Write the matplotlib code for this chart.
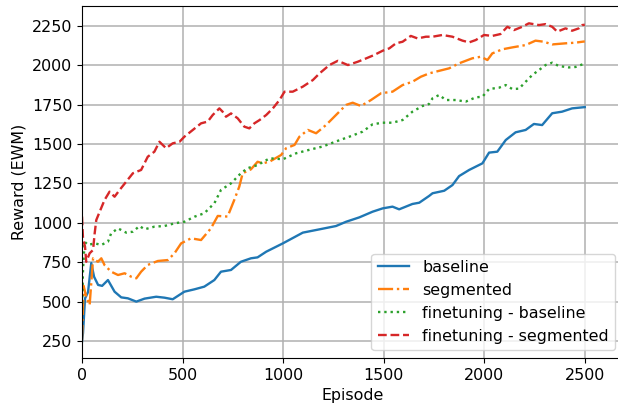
import matplotlib
matplotlib.use("Agg")
import matplotlib.pyplot as plt

# ---- data ----
base_ep = [0, 5, 15, 30, 46, 60, 80, 100, 129, 162, 195, 228, 270, 311, 369, 410, 451, 509,
           559, 608, 658, 691, 741, 790, 840, 873, 916, 999, 1098, 1181, 1263, 1313, 1379,
           1445, 1495, 1544, 1577, 1643, 1677, 1726, 1743, 1801, 1842, 1875, 1925, 1991,
           2024, 2065, 2107, 2156, 2206, 2247, 2288, 2338, 2387, 2437, 2492, 2500]
base_val = [245, 300, 520, 560, 745, 658, 606, 600, 637, 563, 527, 521, 500, 519, 531, 525, 515, 563,
            578, 595, 637, 690, 701, 753, 775, 781, 817, 870, 938, 959, 980, 1007, 1035,
            1071, 1092, 1103, 1086, 1120, 1128, 1171, 1188, 1204, 1240, 1297, 1336, 1378,
            1446, 1452, 1526, 1575, 1590, 1628, 1621, 1696, 1706, 1727, 1734, 1735]

seg_ep = [0, 8, 21, 38, 55, 79, 96, 112, 145, 179, 212, 245, 270, 294, 327, 377, 427, 460,
          493, 542, 592, 641, 675, 724, 757, 782, 799, 840, 873, 899, 933, 990, 1015, 1057,
          1081, 1123, 1164, 1214, 1263, 1313, 1346, 1387, 1437, 1487, 1544, 1594, 1643,
          1685, 1726, 1759, 1825, 1875, 1941, 1983, 2016, 2040, 2090, 2139, 2206, 2255,
          2297, 2338, 2404, 2453, 2487, 2500]
seg_val = [256, 600, 531, 478, 775, 753, 775, 732, 690, 669, 680, 658, 648, 690, 733, 758, 764, 807,
           870, 902, 891, 965, 1044, 1040, 1145, 1230, 1315, 1340, 1388, 1378, 1389, 1431, 1474, 1495,
           1547, 1590, 1569, 1622, 1685, 1749, 1763, 1742, 1780, 1823, 1833, 1875, 1896,
           1928, 1949, 1960, 1981, 2013, 2045, 2055, 2034, 2076, 2102, 2114, 2129, 2157,
           2150, 2133, 2140, 2144, 2150, 2152]

ftb_ep = [0, 5, 13, 30, 63, 96, 129, 145, 179, 220, 253, 286, 311, 360, 410, 460, 509, 559,
          608, 641, 658, 691, 741, 790, 823, 873, 933, 999, 1065, 1131, 1197, 1263, 1329,
          1395, 1445, 1495, 1544, 1594, 1643, 1693, 1726, 1743, 1776, 1809, 1859, 1908,
          1958, 1991, 2024, 2073, 2107, 2139, 2173, 2206, 2239, 2272, 2305, 2338, 2371,
          2421, 2454, 2492, 2500]
ftb_val = [447, 700, 880, 860, 870, 860, 880, 934, 965, 938, 944, 980, 959, 976, 980, 997, 1007, 1039,
           1061, 1103, 1124, 1209, 1251, 1315, 1347, 1367, 1410, 1404, 1442, 1464, 1485, 1517, 1547,
           1579, 1626, 1636, 1636, 1653, 1706, 1742, 1755, 1791, 1812, 1780, 1780, 1770,
           1797, 1801, 1850, 1858, 1875, 1850, 1852, 1896, 1939, 1970, 2002, 2017, 1996,
           1987, 1990, 2008, 2010]

fts_ep = [0, 5, 15, 21, 38, 55, 63, 71, 88, 112, 137, 162, 187, 220, 253, 294, 327, 360, 385,
          418, 451, 485, 509, 551, 592, 625, 650, 683, 699, 716, 741, 774, 807, 832, 857,
          883, 916, 949, 982, 1007, 1048, 1098, 1148, 1181, 1230, 1272, 1322, 1371, 1412,
          1453, 1495, 1528, 1561, 1594, 1635, 1669, 1710, 1743, 1792, 1842, 1892, 1925,
          1958, 1999, 2040, 2081, 2115, 2148, 2189, 2222, 2272, 2305, 2338, 2363, 2404,
          2437, 2470, 2487, 2500]
fts_val = [1040, 900, 849, 753, 807, 828, 934, 1018, 1071, 1145, 1198, 1166, 1209, 1262, 1315, 1336, 1420, 1452, 1515,
           1474, 1505, 1515, 1547, 1590, 1632, 1643, 1685, 1727, 1706, 1674, 1695, 1664, 1611, 1600, 1632,
           1653, 1685, 1727, 1780, 1833, 1833, 1865, 1907, 1949, 2002, 2029, 2002, 2023, 2044,
           2066, 2093, 2108, 2140, 2150, 2187, 2171, 2182, 2182, 2193, 2182, 2157, 2146,
           2161, 2193, 2187, 2199, 2245, 2224, 2245, 2267, 2256, 2262, 2245, 2214, 2235,
           2220, 2235, 2256, 2258]

labels = ["baseline", "segmented", "finetuning - baseline", "finetuning - segmented"]
colors = ["#1f77b4", "#ff7f0e", "#2ca02c", "#d62728"]
styles = ["-", "-.", ":", "--"]

plt.rcParams["font.size"] = 11.4
fig = plt.figure(figsize=(6.18, 4.11), dpi=100)
ax = fig.add_axes([82 / 618, 1 - 358 / 411, (623 - 82) / 618, (358 - 6) / 411])

series = [(base_ep, base_val), (seg_ep, seg_val), (ftb_ep, ftb_val), (fts_ep, fts_val)]
for (xs, ys), lab, c, ls in zip(series, labels, colors, styles):
    ax.plot(xs, ys, ls, color=c, label=lab, linewidth=1.7)

ax.set_xlim(0, 2690)
ax.set_ylim(142, 2377)
ax.set_xticks([0, 500, 1000, 1500, 2000, 2500])
ax.set_yticks([250, 500, 750, 1000, 1250, 1500, 1750, 2000, 2250])
ax.grid(True, color="#b0b0b0", linewidth=1.1)
ax.set_axisbelow(True)
ax.set_xlabel("Episode")
ax.set_ylabel("Reward (EWM)")
ax.legend(loc="lower right")

fig.savefig("out.png", dpi=100)
